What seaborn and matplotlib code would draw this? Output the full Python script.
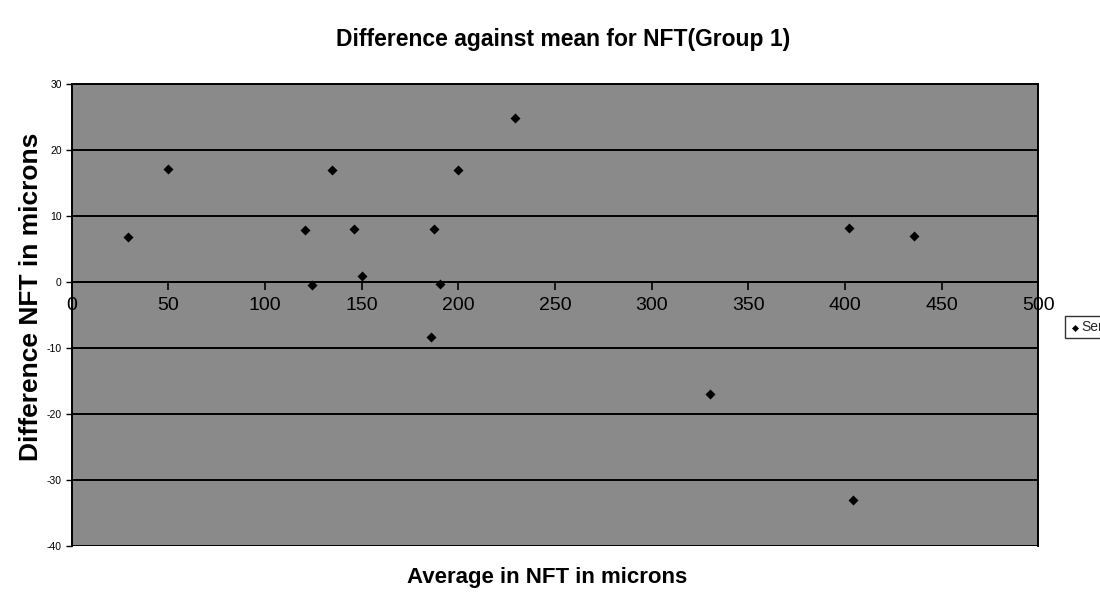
import matplotlib
matplotlib.use("Agg")
import matplotlib.pyplot as plt
import seaborn as sns
import pandas as pd

# Data
average_nft = [29, 50, 121, 124.5, 134.6, 146, 150.4, 186, 187.5, 190.5, 199.7, 229.4, 330, 402, 404, 435.6]
difference_nft = [6.8, 17.1, 7.9, -0.5, 16.9, 8.0, 0.9, -8.3, 8.0, -0.4, 17.0, 24.8, -17.0, 8.1, -33.0, 6.9]
series_name = "Series1"
x_ticks = [0, 50, 100, 150, 200, 250, 300, 350, 400, 450, 500]
y_ticks = [-40, -30, -20, -10, 0, 10, 20, 30]

df = pd.DataFrame({"avg": average_nft, "diff": difference_nft})

sns.set_theme(style="white")
plt.rcParams["font.family"] = ["Liberation Sans", "DejaVu Sans"]
plt.rcParams["axes.unicode_minus"] = False

fig = plt.figure(figsize=(11.0, 5.94), dpi=100)
ax = fig.add_axes([0.065, 0.081, 0.879, 0.778])
ax.set_facecolor("#8a8a8a")

sns.scatterplot(data=df, x="avg", y="diff", marker="D", color="black",
                s=26, edgecolor="black", linewidth=0, label=series_name, ax=ax, zorder=5)

ax.set_xlim(0, 500)
ax.set_ylim(-40, 30)
ax.set_xticks(x_ticks)
ax.set_yticks(y_ticks)
for yv in y_ticks:
    ax.axhline(yv, color="black", linewidth=1.4, zorder=1)

ax.spines["bottom"].set_position(("data", 0))
for s in ["left", "right", "top", "bottom"]:
    ax.spines[s].set_color("black")
    ax.spines[s].set_linewidth(1.4)

ax.tick_params(axis="x", direction="out", length=6, width=1.2, colors="black",
               labelsize=14, pad=5, bottom=True)
ax.tick_params(axis="y", direction="out", length=4, width=1.0, colors="black",
               labelsize=7.5, pad=3, left=True)

ax.set_xlabel("")
ax.set_ylabel("")
fig.text(0.028, 0.500, "Difference NFT in microns", rotation=90, fontsize=19,
         fontweight="bold", ha="center", va="center", color="black")
fig.text(0.497, 0.027, "Average in NFT in microns", fontsize=16,
         fontweight="bold", ha="center", va="center", color="black")
fig.text(0.512, 0.934, "Difference against mean for NFT(Group 1)", fontsize=16.5,
         fontweight="bold", ha="center", va="center", color="black")

ax.get_legend().remove()
leg = fig.legend(loc="center left", bbox_to_anchor=(0.962, 0.449), fontsize=10,
                 frameon=True, fancybox=False, edgecolor="black", borderpad=0.3,
                 handletextpad=0.1, handlelength=0.8, markerscale=0.7)
leg.get_frame().set_linewidth(1.0)

fig.savefig("out.png", dpi=100, facecolor="white")
